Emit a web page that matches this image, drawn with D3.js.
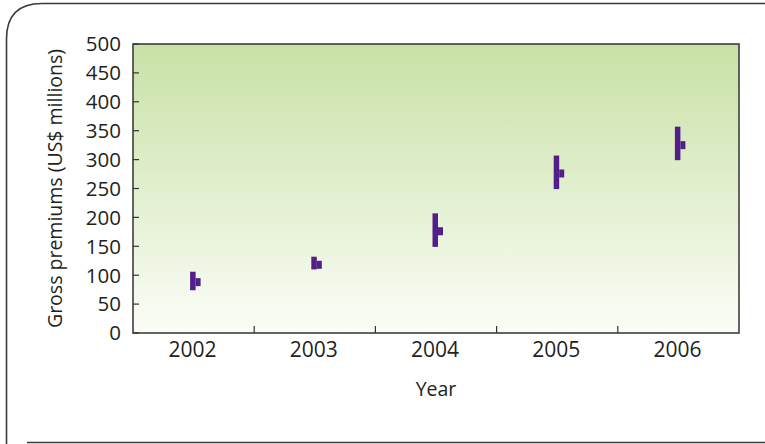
<!DOCTYPE html>
<html><head><meta charset="utf-8">
<script src="https://cdn.jsdelivr.net/npm/d3@7/dist/d3.min.js"></script>
<style>body{margin:0;background:#fff}svg{display:block}text{font-family:"Open Sans",sans-serif;fill:#231f20}</style>
</head><body>
<script>
const years = ["2002","2003","2004","2005","2006"];
const highs = [106, 132, 207, 307, 357];
const lows = [74, 110, 149, 249, 299];
const closes = [88, 118, 176, 276, 325];
const yTicks = [0,50,100,150,200,250,300,350,400,450,500];

const W = 765, H = 444;
const m = {left:133, right:739, top:44, bottom:333};
const svg = d3.select("body").append("svg").attr("width",W).attr("height",H);

// frame
svg.append("path")
  .attr("d", `M${W},3.5 L42,3.5 Q6.5,3.5 6.5,39 L6.5,${H}`)
  .attr("fill","none").attr("stroke","#3a3a3a").attr("stroke-width",1.6);
svg.append("line").attr("x1",27).attr("x2",W).attr("y1",442.5).attr("y2",442.5)
  .attr("stroke","#3a3a3a").attr("stroke-width",1.6);

const defs = svg.append("defs");
const g = defs.append("linearGradient").attr("id","bg").attr("x1",0).attr("x2",0).attr("y1",0).attr("y2",1);
g.append("stop").attr("offset","0%").attr("stop-color","#c8e1a5");
g.append("stop").attr("offset","100%").attr("stop-color","#fbfdf8");

const x = d3.scaleBand().domain(years).range([m.left, m.right]);
const y = d3.scaleLinear().domain([0,500]).range([m.bottom, m.top]);

svg.append("rect").attr("x",m.left).attr("y",m.top)
  .attr("width",m.right-m.left).attr("height",m.bottom-m.top)
  .attr("fill","url(#bg)").attr("stroke","#333").attr("stroke-width",1.5);

// y axis ticks (inside)
const ya = svg.append("g");
ya.selectAll("line").data(yTicks).join("line")
  .attr("x1",m.left).attr("x2",m.left+6).attr("y1",d=>y(d)).attr("y2",d=>y(d))
  .attr("stroke","#333").attr("stroke-width",1.2);
ya.selectAll("text").data(yTicks).join("text")
  .attr("x",121).attr("y",d=>y(d)).attr("dy","0.36em").attr("text-anchor","end")
  .attr("font-size",20.5).text(d=>d);

// x axis ticks at band boundaries
const bounds = years.slice(1).map(d=>x(d));
svg.append("g").selectAll("line").data(bounds).join("line")
  .attr("x1",d=>d).attr("x2",d=>d).attr("y1",m.bottom).attr("y2",m.bottom-7)
  .attr("stroke","#333").attr("stroke-width",1.2);
svg.append("g").selectAll("text").data(years).join("text")
  .attr("x",d=>x(d)+x.bandwidth()/2-1).attr("y",357).attr("text-anchor","middle")
  .attr("font-size",21).text(d=>d);

svg.append("text").attr("x",(m.left+m.right)/2).attr("y",396).attr("text-anchor","middle")
  .attr("font-size",19.5).text("Year");
svg.append("text").attr("transform",`translate(62,${(m.top+m.bottom)/2}) rotate(-90)`)
  .attr("text-anchor","middle").attr("font-size",19.5).text("Gross premiums (US$ millions)");

// high-low-close marks
const data = years.map((d,i)=>({year:d,high:highs[i],low:lows[i],close:closes[i]}));
const mk = svg.append("g").attr("fill","#521f8a");
mk.selectAll("rect.hl").data(data).join("rect").attr("class","hl")
  .attr("x",d=>x(d.year)+x.bandwidth()/2-3.5).attr("width",5.5)
  .attr("y",d=>y(d.high)).attr("height",d=>y(d.low)-y(d.high));
mk.selectAll("rect.c").data(data).join("rect").attr("class","c")
  .attr("x",d=>x(d.year)+x.bandwidth()/2+2).attr("width",5)
  .attr("y",d=>y(d.close)-4).attr("height",8);
</script>
</body></html>
